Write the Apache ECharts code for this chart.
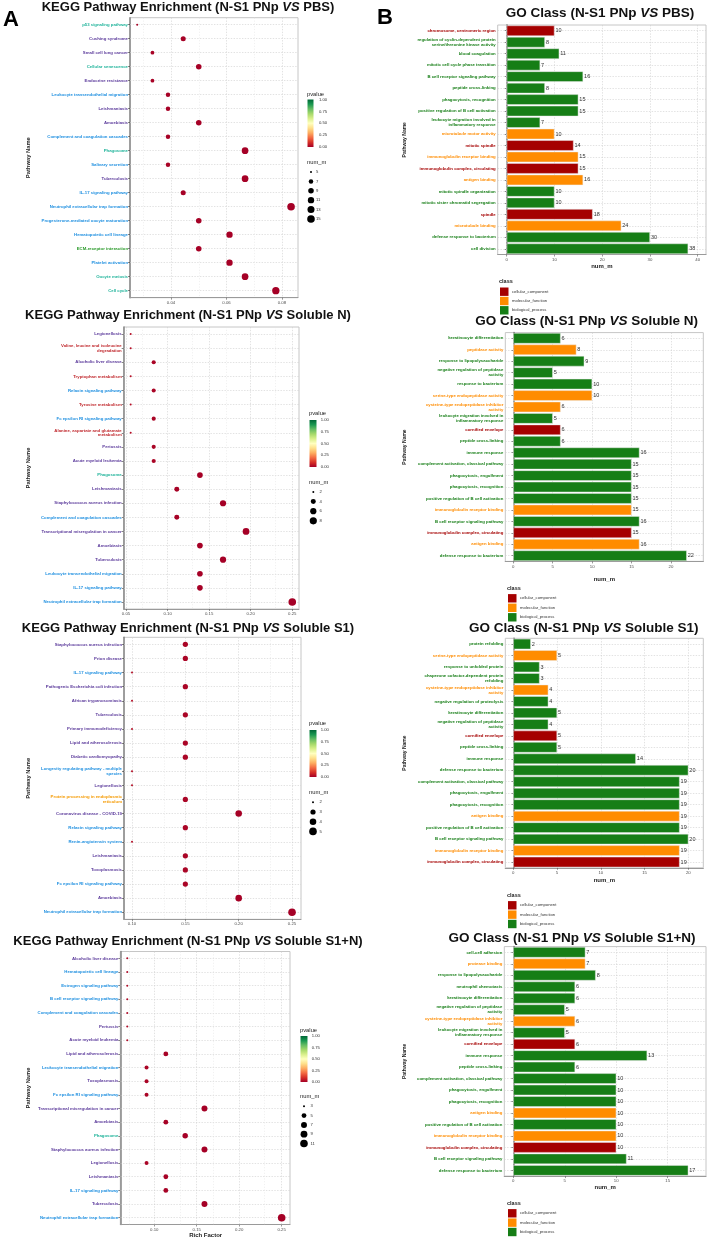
<!DOCTYPE html>
<html><head><meta charset="utf-8">
<script src="https://cdn.jsdelivr.net/npm/echarts@6/dist/echarts.min.js"></script>
<style>html,body{margin:0;padding:0;background:#fff}#c{width:709px;height:1239px}</style>
</head><body><div id="c"></div>
<script>
// ---------------- DATA ----------------
const keggTitles = ['PBS', 'Soluble N', 'Soluble S1', 'Soluble S1+N'];
const goTitles = ['PBS', 'Soluble N', 'Soluble S1', 'Soluble S1+N'];

const kegg1Names = ['p53 signaling pathway','Cushing syndrome','Small cell lung cancer','Cellular senescence','Endocrine resistance','Leukocyte transendothelial migration','Leishmaniasis','Amoebiasis','Complement and coagulation cascades','Phagosome','Salivary secretion','Tuberculosis','IL-17 signaling pathway','Neutrophil extracellular trap formation','Progesterone-mediated oocyte maturation','Hematopoietic cell lineage','ECM-receptor interaction','Platelet activation','Oocyte meiosis','Cell cycle'];
const kegg1Class = ['CP','HD','HD','CP','HD','OS','HD','HD','OS','CP','OS','HD','OS','OS','OS','OS','EIP','OS','CP','CP'];
const kegg1Rich = [0.0278,0.0444,0.0333,0.0500,0.0333,0.0389,0.0389,0.0500,0.0389,0.0667,0.0389,0.0667,0.0444,0.0833,0.0500,0.0611,0.0500,0.0611,0.0667,0.0778];
const kegg1Num = [5,8,6,9,6,7,7,9,7,12,7,12,8,15,9,11,9,11,12,14];
const kegg1P = [0.004,0.002,0.006,0.001,0.005,0.003,0.003,0.001,0.004,0.0003,0.007,0.0005,0.002,0.0001,0.002,0.001,0.003,0.001,0.0004,0.0001];
const kegg1Ticks = [0.04, 0.06, 0.08];
const kegg1Minor = [0.03, 0.05, 0.07];
const kegg1SizeBreaks = [5, 7, 9, 11, 13, 15];

const kegg2Names = ['Legionellosis','Valine, leucine and isoleucine\ndegradation','Alcoholic liver disease','Tryptophan metabolism','Relaxin signaling pathway','Tyrosine metabolism','Fc epsilon RI signaling pathway','Alanine, aspartate and glutamate\nmetabolism','Pertussis','Acute myeloid leukemia','Phagosome','Leishmaniasis','Staphylococcus aureus infection','Complement and coagulation cascades','Transcriptional misregulation in cancer','Amoebiasis','Tuberculosis','Leukocyte transendothelial migration','IL-17 signaling pathway','Neutrophil extracellular trap formation'];
const kegg2Class = ['HD','M','HD','M','OS','M','OS','M','HD','HD','CP','HD','HD','OS','HD','HD','HD','OS','OS','OS'];
const kegg2Rich = [0.0556,0.0556,0.0833,0.0556,0.0833,0.0556,0.0833,0.0556,0.0833,0.0833,0.1389,0.1111,0.1667,0.1111,0.1944,0.1389,0.1667,0.1389,0.1389,0.2500];
const kegg2Num = [2,2,3,2,3,2,3,2,3,3,5,4,6,4,7,5,6,5,5,9];
const kegg2P = [0.03,0.03,0.01,0.03,0.01,0.03,0.01,0.03,0.01,0.01,0.001,0.004,0.0005,0.004,0.0002,0.001,0.0005,0.001,0.001,0.00001];
const kegg2Ticks = [0.05, 0.10, 0.15, 0.20, 0.25];
const kegg2Minor = [0.075, 0.125, 0.175, 0.225];
const kegg2SizeBreaks = [2, 4, 6, 8];

const kegg3Names = ['Staphylococcus aureus infection','Prion disease','IL-17 signaling pathway','Pathogenic Escherichia coli infection','African trypanosomiasis','Tuberculosis','Primary immunodeficiency','Lipid and atherosclerosis','Diabetic cardiomyopathy','Longevity regulating pathway - multiple\nspecies','Legionellosis','Protein processing in endoplasmic\nreticulum','Coronavirus disease - COVID-19','Relaxin signaling pathway','Renin-angiotensin system','Leishmaniasis','Toxoplasmosis','Fc epsilon RI signaling pathway','Amoebiasis','Neutrophil extracellular trap formation'];
const kegg3Class = ['HD','HD','OS','HD','HD','HD','HD','HD','HD','OS','HD','GIP','HD','OS','OS','HD','HD','OS','HD','OS'];
const kegg3Rich = [0.15,0.15,0.10,0.15,0.10,0.15,0.10,0.15,0.15,0.10,0.10,0.15,0.20,0.15,0.10,0.15,0.15,0.15,0.20,0.25];
const kegg3Num = [3,3,2,3,2,3,2,3,3,2,2,3,4,3,2,3,3,3,4,5];
const kegg3P = [0.01,0.01,0.03,0.01,0.03,0.01,0.03,0.01,0.01,0.03,0.03,0.01,0.002,0.01,0.03,0.01,0.01,0.01,0.002,0.0003];
const kegg3Ticks = [0.10, 0.15, 0.20, 0.25];
const kegg3Minor = [0.125, 0.175, 0.225];
const kegg3SizeBreaks = [2, 3, 4, 5];

const kegg4Names = ['Alcoholic liver disease','Hematopoietic cell lineage','Estrogen signaling pathway','B cell receptor signaling pathway','Complement and coagulation cascades','Pertussis','Acute myeloid leukemia','Lipid and atherosclerosis','Leukocyte transendothelial migration','Toxoplasmosis','Fc epsilon RI signaling pathway','Transcriptional misregulation in cancer','Amoebiasis','Phagosome','Staphylococcus aureus infection','Legionellosis','Leishmaniasis','IL-17 signaling pathway','Tuberculosis','Neutrophil extracellular trap formation'];
const kegg4Class = ['HD','OS','OS','OS','OS','HD','HD','HD','OS','HD','OS','HD','HD','CP','HD','HD','HD','OS','HD','OS'];
const kegg4Rich = [0.0682,0.0682,0.0682,0.0682,0.0682,0.0682,0.0682,0.1136,0.0909,0.0909,0.0909,0.1591,0.1136,0.1364,0.1591,0.0909,0.1136,0.1136,0.1591,0.2500];
const kegg4Num = [3,3,3,3,3,3,3,5,4,4,4,7,5,6,7,4,5,5,7,11];
const kegg4P = [0.02,0.02,0.02,0.02,0.02,0.02,0.02,0.004,0.01,0.01,0.01,0.0005,0.004,0.001,0.0005,0.01,0.004,0.004,0.0005,0.000001];
const kegg4Ticks = [0.10, 0.15, 0.20, 0.25];
const kegg4Minor = [0.075, 0.125, 0.175, 0.225];
const kegg4SizeBreaks = [3, 5, 7, 9, 11];

const pvalueLabels = ['1.00', '0.75', '0.50', '0.25', '0.00'];

const go1Terms = ['chromosome, centromeric region','regulation of cyclin-dependent protein\nserine/threonine kinase activity','blood coagulation','mitotic cell cycle phase transition','B cell receptor signaling pathway','peptide cross-linking','phagocytosis, recognition','positive regulation of B cell activation','leukocyte migration involved in\ninflammatory response','microtubule motor activity','mitotic spindle','immunoglobulin receptor binding','immunoglobulin complex, circulating','antigen binding','mitotic spindle organization','mitotic sister chromatid segregation','spindle','microtubule binding','defense response to bacterium','cell division'];
const go1Class = ['CC','BP','BP','BP','BP','BP','BP','BP','BP','MF','CC','MF','CC','MF','BP','BP','CC','MF','BP','BP'];
const go1Num = [10,8,11,7,16,8,15,15,7,10,14,15,15,16,10,10,18,24,30,38];
const go1Ticks = [0, 10, 20, 30, 40];

const go2Terms = ['keratinocyte differentiation','peptidase activity','response to lipopolysaccharide','negative regulation of peptidase\nactivity','response to bacterium','serine-type endopeptidase activity','cysteine-type endopeptidase inhibitor\nactivity','leukocyte migration involved in\ninflammatory response','cornified envelope','peptide cross-linking','immune response','complement activation, classical pathway','phagocytosis, engulfment','phagocytosis, recognition','positive regulation of B cell activation','immunoglobulin receptor binding','B cell receptor signaling pathway','immunoglobulin complex, circulating','antigen binding','defense response to bacterium'];
const go2Class = ['BP','MF','BP','BP','BP','MF','MF','BP','CC','BP','BP','BP','BP','BP','BP','MF','BP','CC','MF','BP'];
const go2Num = [6,8,9,5,10,10,6,5,6,6,16,15,15,15,15,15,16,15,16,22];
const go2Ticks = [0, 5, 10, 15, 20];

const go3Terms = ['protein refolding','serine-type endopeptidase activity','response to unfolded protein','chaperone cofactor-dependent protein\nrefolding','cysteine-type endopeptidase inhibitor\nactivity','negative regulation of proteolysis','keratinocyte differentiation','negative regulation of peptidase\nactivity','cornified envelope','peptide cross-linking','immune response','defense response to bacterium','complement activation, classical pathway','phagocytosis, engulfment','phagocytosis, recognition','antigen binding','positive regulation of B cell activation','B cell receptor signaling pathway','immunoglobulin receptor binding','immunoglobulin complex, circulating'];
const go3Class = ['BP','MF','BP','BP','MF','BP','BP','BP','CC','BP','BP','BP','BP','BP','BP','MF','BP','BP','MF','CC'];
const go3Num = [2,5,3,3,4,4,5,4,5,5,14,20,19,19,19,19,19,20,19,19];
const go3Ticks = [0, 5, 10, 15, 20];

const go4Terms = ['cell-cell adhesion','protease binding','response to lipopolysaccharide','neutrophil chemotaxis','keratinocyte differentiation','negative regulation of peptidase\nactivity','cysteine-type endopeptidase inhibitor\nactivity','leukocyte migration involved in\ninflammatory response','cornified envelope','immune response','peptide cross-linking','complement activation, classical pathway','phagocytosis, engulfment','phagocytosis, recognition','antigen binding','positive regulation of B cell activation','immunoglobulin receptor binding','immunoglobulin complex, circulating','B cell receptor signaling pathway','defense response to bacterium'];
const go4Class = ['BP','MF','BP','BP','BP','BP','MF','BP','CC','BP','BP','BP','BP','BP','MF','BP','MF','CC','BP','BP'];
const go4Num = [7,7,8,6,6,5,6,5,6,13,6,10,10,10,10,10,10,10,11,17];
const go4Ticks = [0, 5, 10, 15];

const goClassOrder = ['CC', 'MF', 'BP'];
const goClassLabels = ['cellular_component', 'molecular_function', 'biological_process'];

// ---------------- STYLE / LAYOUT ----------------
const FONT = 'Liberation Sans';
const KEGG_COLORS = {CP:'#1FB39A', HD:'#5B3A9B', OS:'#1E8FE0', EIP:'#2A9A2A', M:'#C0282D', GIP:'#F59A00'};
const GO_COLORS = {CC:'#A50000', MF:'#FF8C00', BP:'#167E16'};
const RDYLGN = ['#A50026','#D73027','#F46D43','#FDAE61','#FEE08B','#FFFFBF','#D9EF8B','#A6D96A','#66BD63','#1A9850','#006837'];

const keggPanels = [
  {names:kegg1Names, cls:kegg1Class, rich:kegg1Rich, num:kegg1Num, p:kegg1P, ticks:kegg1Ticks, minor:kegg1Minor, breaks:kegg1SizeBreaks,
   L:{left:130, top:17.7, width:168, height:280, min:0.0252, max:0.0858, titleY:7, pvX:307, pvTitleY:94.7, barTop:99.5, barH:47.5, barW:6, pvLabX:319, numTitleY:162.7, num0:172, numStep:9.4, dotX:311, numLabX:316}},
  {names:kegg2Names, cls:kegg2Class, rich:kegg2Rich, num:kegg2Num, p:kegg2P, ticks:kegg2Ticks, minor:kegg2Minor, breaks:kegg2SizeBreaks,
   L:{left:123.7, top:327, width:175.3, height:282, min:0.0472, max:0.2581, titleY:315, pvX:309, pvTitleY:413.7, barTop:420, barH:47, barW:7, pvLabX:320.7, numTitleY:482, num0:492, numStep:9.6, dotX:313.3, numLabX:319.5}},
  {names:kegg3Names, cls:kegg3Class, rich:kegg3Rich, num:kegg3Num, p:kegg3P, ticks:kegg3Ticks, minor:kegg3Minor, breaks:kegg3SizeBreaks,
   L:{left:124, top:637.3, width:177, height:282, min:0.0925, max:0.2584, titleY:628, pvX:309, pvTitleY:723.7, barTop:730, barH:47, barW:7, pvLabX:320.7, numTitleY:792.3, num0:802.3, numStep:9.7, dotX:313, numLabX:319.5}},
  {names:kegg4Names, cls:kegg4Class, rich:kegg4Rich, num:kegg4Num, p:kegg4P, ticks:kegg4Ticks, minor:kegg4Minor, breaks:kegg4SizeBreaks,
   L:{left:120.3, top:951.5, width:169.7, height:273, min:0.0600, max:0.2598, titleY:941, pvX:300, pvTitleY:1030, barTop:1036, barH:46, barW:7, pvLabX:311.7, numTitleY:1096.7, num0:1106.3, numStep:9.3, dotX:304, numLabX:310.5}}
];
const goPanels = [
  {terms:go1Terms, cls:go1Class, num:go1Num, ticks:go1Ticks,
   L:{left:497.7, top:25, width:208.3, height:229.5, min:-1.885, max:41.74, titleX:600, titleY:13, xTitleY:266, legX:500, legTitleY:281.7, sw0:291.7, swStep:9.3}},
  {terms:go2Terms, cls:go2Class, num:go2Num, ticks:go2Ticks,
   L:{left:505.3, top:332.6, width:198, height:228.8, min:-1.015, max:24.1, titleX:586.7, titleY:321.7, xTitleY:579.3, legX:508, legTitleY:588.3, sw0:598.3, swStep:9.5}},
  {terms:go3Terms, cls:go3Class, num:go3Num, ticks:go3Ticks,
   L:{left:505.3, top:638.3, width:198, height:229.5, min:-0.914, max:21.71, titleX:583.7, titleY:628, xTitleY:880, legX:508, legTitleY:895, sw0:905.3, swStep:9.35}},
  {terms:go4Terms, cls:go4Class, num:go4Num, ticks:go4Ticks,
   L:{left:504.3, top:946.6, width:201.7, height:229.5, min:-0.875, max:18.72, titleX:572, titleY:938.3, xTitleY:1187.7, legX:508, legTitleY:1203.3, sw0:1213.3, swStep:9.35}}
];

function sizeFn(n, lo, hi) { return 2 + 5.6 * Math.sqrt((n - lo) / (hi - lo)); }

function txt(x, y, text, o) {
  o = o || {};
  return {type:'text', x:x, y:y, rotation:o.rot || 0, silent:true, z:10,
    style:{text:text, fill:o.color || '#222', fontSize:o.size || 5, fontWeight:o.weight || 'normal', fontFamily:FONT,
      align:o.align || 'left', textAlign:o.align || 'left', verticalAlign:'middle', textVerticalAlign:'middle', rich:o.rich}};
}
function titleText(x, y, prefix, suffix, size) {
  const st = {fontSize:size, fontWeight:'bold', fontFamily:FONT, fill:'#111'};
  return {type:'text', x:x, y:y, silent:true, z:10,
    style:{text:'{a|' + prefix + '}{b|VS}{a| ' + suffix + ')}', align:'center', textAlign:'center', verticalAlign:'middle', textVerticalAlign:'middle',
      rich:{a:Object.assign({}, st), b:Object.assign({fontStyle:'italic'}, st)}}};
}

const option = {animation:false, backgroundColor:'#fff', grid:[], xAxis:[], yAxis:[], series:[], graphic:[], visualMap:[]};
const gridLineStyle = {color:'#cfcfcf', type:[1.4, 1.4], width:0.6};
const keggSeriesIdx = [];
let gi = 0;

keggPanels.forEach(function (P, k) {
  const L = P.L;
  option.grid.push({left:L.left, top:L.top, width:L.width, height:L.height, show:true, backgroundColor:'#fff', borderColor:'#c6c6c6', borderWidth:1});
  option.xAxis.push({type:'value', gridIndex:gi, min:L.min, max:L.max,
    axisLine:{show:true, onZero:false, lineStyle:{color:'#9a9a9a', width:1}},
    axisTick:{show:true, customValues:P.ticks, length:2, lineStyle:{color:'#555', width:0.6}},
    axisLabel:{customValues:P.ticks, formatter:function (v) { return v.toFixed(2); }, fontSize:4.3, color:'#4d4d4d', margin:3, fontFamily:FONT},
    splitLine:{show:false}});
  option.yAxis.push({type:'category', gridIndex:gi, data:P.names, inverse:true,
    axisLine:{show:true, lineStyle:{color:'#8c8c8c', width:1.6}},
    axisTick:{show:true, alignWithLabel:true, length:2, lineStyle:{color:'#333', width:0.6}},
    axisLabel:{interval:0, fontSize:4.3, fontWeight:'bold', lineHeight:4.8, margin:2, fontFamily:FONT,
      color:function (v, i) { return KEGG_COLORS[P.cls[i]]; }},
    splitLine:{show:false}});
  const lo = Math.min.apply(null, P.num), hi = Math.max.apply(null, P.num);
  keggSeriesIdx.push(option.series.length);
  option.series.push({type:'scatter', xAxisIndex:gi, yAxisIndex:gi, z:3,
    data:P.rich.map(function (r, j) { return [r, j, P.num[j], P.p[j]]; }),
    encode:{x:0, y:1},
    symbolSize:function (v) { return sizeFn(v[2], lo, hi); },
    itemStyle:{opacity:1},
    markLine:{silent:true, z:1, symbol:'none', animation:false, label:{show:false}, lineStyle:gridLineStyle,
      data:P.names.map(function (_, j) { return {yAxis:j}; })
        .concat(P.ticks.map(function (t) { return {xAxis:t}; }))
        .concat(P.minor.map(function (t) { return {xAxis:t, lineStyle:{color:'#e2e2e2', type:[1.2, 1.6], width:0.5}}; }))}
  });
  // title
  option.graphic.push(titleText(188, L.titleY, 'KEGG Pathway Enrichment (N-S1 PNp ', keggTitles[k], 13));
  // y title
  option.graphic.push(txt(28, L.top + L.height / 2, 'Pathway Name', {rot:Math.PI / 2, align:'center', size:5.8, weight:'bold', color:'#222'}));
  // pvalue legend
  option.graphic.push(txt(L.pvX, L.pvTitleY, 'pvalue', {size:5.8, color:'#222'}));
  option.graphic.push({type:'rect', silent:true, z:10, shape:{x:L.pvX + 0.5, y:L.barTop, width:L.barW, height:L.barH},
    style:{fill:new echarts.graphic.LinearGradient(0, 0, 0, 1, RDYLGN.slice().reverse().map(function (c, i) { return {offset:i / 10, color:c}; }))}});
  pvalueLabels.forEach(function (t, i) {
    option.graphic.push(txt(L.pvLabX, L.barTop + i * L.barH / 4, t, {size:4.2, color:'#333'}));
  });
  // num_m legend
  option.graphic.push(txt(L.pvX, L.numTitleY, 'num_m', {size:5.8, color:'#222'}));
  P.breaks.forEach(function (b, i) {
    const y = L.num0 + i * L.numStep;
    option.graphic.push({type:'circle', silent:true, z:10, shape:{cx:L.dotX, cy:y, r:sizeFn(b, lo, hi) / 2}, style:{fill:'#000'}});
    option.graphic.push(txt(L.numLabX, y, String(b), {size:4.2, color:'#333'}));
  });
  gi++;
});

option.visualMap.push({type:'continuous', show:false, min:0, max:1, dimension:3, seriesIndex:keggSeriesIdx, inRange:{color:RDYLGN}});
option.graphic.push(txt(205.7, 1235.5, 'Rich Factor', {align:'center', size:6, weight:'bold', color:'#222'}));
option.graphic.push(txt(3, 20, 'A', {size:22, weight:'bold', color:'#000'}));
option.graphic.push(txt(377, 18, 'B', {size:22, weight:'bold', color:'#000'}));

goPanels.forEach(function (P, k) {
  const L = P.L;
  option.grid.push({left:L.left, top:L.top, width:L.width, height:L.height, show:true, backgroundColor:'#fff', borderColor:'#c6c6c6', borderWidth:1});
  option.xAxis.push({type:'value', gridIndex:gi, min:L.min, max:L.max,
    axisLine:{show:true, onZero:false, lineStyle:{color:'#9a9a9a', width:1.2}},
    axisTick:{show:true, customValues:P.ticks, length:2, lineStyle:{color:'#555', width:0.6}},
    axisLabel:{customValues:P.ticks, fontSize:4.3, color:'#4d4d4d', margin:3, fontFamily:FONT},
    splitLine:{show:false}});
  option.yAxis.push({type:'category', gridIndex:gi, data:P.terms, inverse:true,
    axisLine:{show:true, lineStyle:{color:'#7a7a7a', width:1.6}},
    axisTick:{show:true, alignWithLabel:true, length:2, lineStyle:{color:'#333', width:0.6}},
    axisLabel:{interval:0, fontSize:4.3, fontWeight:'bold', lineHeight:4.8, margin:2, fontFamily:FONT,
      color:function (v, i) { return GO_COLORS[P.cls[i]]; }},
    splitLine:{show:false}});
  option.series.push({type:'bar', xAxisIndex:gi, yAxisIndex:gi, z:3, barCategoryGap:'9%',
    data:P.num.map(function (v, j) { return {value:v, itemStyle:{color:GO_COLORS[P.cls[j]]}}; }),
    itemStyle:{borderColor:'rgba(235,235,235,0.9)', borderWidth:0.5},
    label:{show:true, position:'right', distance:1, fontSize:5.5, color:'#333', fontFamily:FONT},
    markLine:{silent:true, z:1, symbol:'none', animation:false, label:{show:false}, lineStyle:gridLineStyle,
      data:P.terms.map(function (_, j) { return {yAxis:j}; }).concat(P.ticks.map(function (t) { return {xAxis:t}; }))}
  });
  option.graphic.push(titleText(L.titleX, L.titleY, 'GO Class (N-S1 PNp ', goTitles[k], 13.5));
  option.graphic.push(txt(405, L.top + L.height / 2, 'Pathway Name', {rot:Math.PI / 2, align:'center', size:5, weight:'bold', color:'#222'}));
  option.graphic.push(txt(L.left + L.width / 2, L.xTitleY, 'num_m', {align:'center', size:6, weight:'bold', color:'#222'}));
  option.graphic.push(txt(L.legX - 1, L.legTitleY, 'class', {size:5.5, weight:'bold', color:'#222'}));
  goClassOrder.forEach(function (c, i) {
    const y = L.sw0 + i * L.swStep;
    option.graphic.push({type:'rect', silent:true, z:10, shape:{x:L.legX, y:y - 4.2, width:8.5, height:8.4}, style:{fill:GO_COLORS[c]}});
    option.graphic.push(txt(L.legX + 12, y, goClassLabels[i], {size:4.2, color:'#333'}));
  });
  gi++;
});

const chart = echarts.init(document.getElementById('c'), null, {renderer:'canvas'});
chart.setOption(option);
</script></body></html>
